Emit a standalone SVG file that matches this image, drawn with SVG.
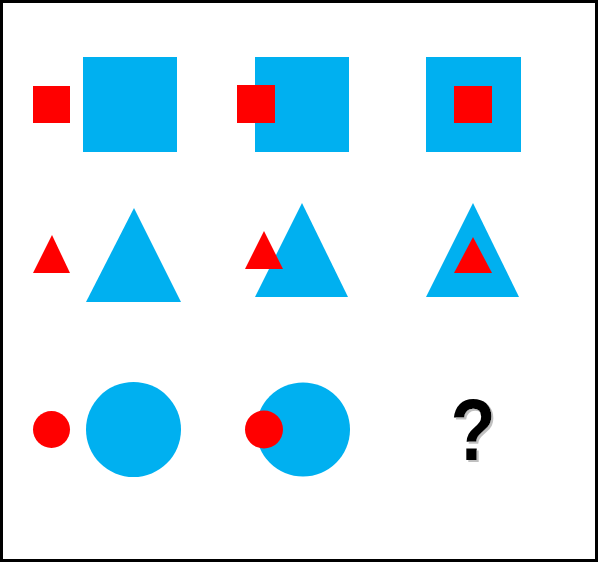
<svg xmlns="http://www.w3.org/2000/svg" width="598" height="562" viewBox="0 0 598 562">
<style>
.b{fill:#00b0f0}
.r{fill:#ff0000}
.q{font-family:"Liberation Sans",Arial,sans-serif;font-weight:bold;font-size:88px;text-anchor:middle}
</style>
<defs>
<filter id="sh" x="-20%" y="-20%" width="150%" height="150%">
<feOffset in="SourceAlpha" dx="2" dy="2" result="o"/>
<feFlood flood-color="#c0c0c0"/>
<feComposite in2="o" operator="in" result="s"/>
<feMerge><feMergeNode in="s"/><feMergeNode in="SourceGraphic"/></feMerge>
</filter>
</defs>
<rect x="1.5" y="1.5" width="595" height="559" fill="#ffffff" stroke="#000000" stroke-width="3"/>
<g id="r1c1"><rect class="b" x="83" y="57" width="94" height="95"/><rect class="r" x="33" y="86" width="37" height="37"/></g>
<g id="r1c2"><rect class="b" x="255" y="57" width="94" height="95"/><rect class="r" x="237" y="85" width="38" height="38"/></g>
<g id="r1c3"><rect class="b" x="426" y="57" width="95" height="95"/><rect class="r" x="454" y="86" width="38" height="37"/></g>
<g id="r2c1"><polygon class="b" points="134,208 181,302 86,302"/><polygon class="r" points="52,235 70,273 33,273"/></g>
<g id="r2c2"><polygon class="b" points="302,203 348,297 255,297"/><polygon class="r" points="264,231 283,269 245,269"/></g>
<g id="r2c3"><polygon class="b" points="473,203 519,297 426,297"/><polygon class="r" points="473,237 492,273 454,273"/></g>
<g id="r3c1"><circle class="b" cx="133.5" cy="429.5" r="47.5"/><circle class="r" cx="51.5" cy="429.5" r="18.5"/></g>
<g id="r3c2"><circle class="b" cx="303" cy="429.5" r="47"/><circle class="r" cx="264" cy="429.5" r="19"/></g>
<g id="r3c3"><text class="q" transform="translate(473,460) scale(0.84,1)" x="0" y="0" fill="#000000" filter="url(#sh)">?</text></g>
</svg>
